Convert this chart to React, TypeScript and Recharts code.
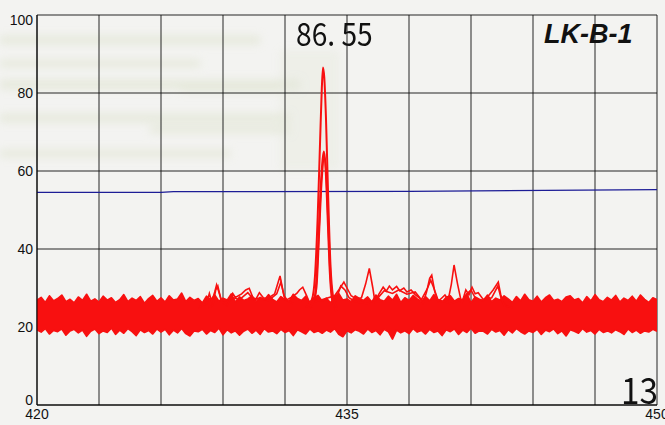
import {
  Area,
  CartesianGrid,
  ComposedChart,
  Line,
  XAxis,
  YAxis,
} from "recharts";

// axis ticks
const xTicks = [420, 423, 426, 429, 432, 435, 438, 441, 444, 447, 450];
const xLabels = [420, 435, 450];
const yTicks = [0, 20, 40, 60, 80, 100];

// noise band, one sample every 0.2 from 420 to 450
const bandTop = [
  26.9, 27.6, 26.3, 28.0, 26.7, 27.3, 28.2, 26.5, 27.1, 26.2,
  27.7, 26.8, 28.4, 26.6, 27.2, 26.4, 27.9, 26.9, 27.5, 26.3,
  27.0, 28.3, 26.5, 27.4, 26.8, 27.8, 26.1, 27.3, 28.1, 26.6,
  27.5, 26.4, 28.0, 26.9, 27.2, 28.7, 26.5, 27.6, 26.8, 27.3,
  26.2, 27.9, 27.0, 28.2, 26.6, 27.4, 26.9, 28.5, 26.4, 27.7,
  26.8, 27.2, 28.0, 26.5, 27.6, 26.9, 28.3, 27.1, 26.4, 27.8,
  27.0, 26.6, 28.4, 27.3, 26.8, 27.9, 26.3, 27.5, 28.1, 26.7,
  27.4, 26.2, 27.8, 28.6, 26.9, 27.2, 26.5, 28.0, 27.3, 26.8,
  27.7, 26.4, 28.2, 27.0, 26.6, 27.9, 26.9, 28.4, 26.3, 27.5,
  26.8, 28.1, 27.2, 26.5, 27.8, 26.7, 28.3, 27.0, 26.4, 27.6,
  28.0, 26.6, 27.3, 26.9, 28.5, 26.2, 27.7, 27.1, 26.8, 28.2,
  26.5, 27.4, 26.9, 28.0, 27.2, 26.3, 27.8, 26.7, 28.4, 27.0,
  26.6, 27.9, 26.4, 27.5, 28.2, 26.8, 27.1, 26.5, 27.7, 28.0,
  26.9, 27.3, 26.2, 27.8, 26.7, 28.3, 27.0, 26.5, 27.6, 26.9,
  28.1, 26.4, 27.4, 26.8, 27.9, 26.6, 28.2, 27.1, 26.3, 27.5,
  27.0,
];
const bandBottom = [
  19.3, 18.7, 19.6, 18.2, 19.1, 18.8, 19.5, 17.9, 19.0, 19.4,
  18.5, 19.2, 17.6, 18.9, 19.5, 18.3, 19.0, 18.6, 19.7, 18.1,
  19.2, 18.4, 19.6, 18.8, 17.8, 19.3, 18.6, 19.1, 18.2, 19.5,
  18.7, 19.4, 18.0, 19.2, 18.5, 19.6, 18.3, 17.7, 19.0, 18.8,
  19.4, 18.2, 19.1, 18.6, 19.7, 18.0, 19.3, 18.5, 19.0, 17.9,
  18.9, 19.5, 18.4, 19.2, 18.1, 19.6, 18.7, 19.0, 18.3, 19.4,
  18.6, 19.1, 17.8, 19.3, 18.8, 18.2, 19.5, 18.6, 19.0, 18.4,
  19.2, 18.7, 19.6, 18.1, 17.5, 19.0, 18.5, 19.3, 18.9, 18.2,
  19.5, 18.6, 19.1, 18.0, 19.4, 18.8, 16.9, 19.2, 18.5, 19.0,
  18.3, 19.6, 18.7, 19.1, 18.2, 19.4, 18.6, 19.0, 17.8, 19.3,
  18.8, 19.5, 18.1, 19.2, 18.6, 19.7, 18.4, 19.0, 18.9, 18.2,
  19.4, 18.7, 19.1, 17.9, 19.3, 18.5, 19.6, 18.8, 18.2, 19.0,
  18.6, 19.4, 18.1, 19.2, 18.8, 19.5, 18.3, 19.0, 17.7, 19.3,
  18.9, 18.4, 19.6, 18.7, 19.1, 18.2, 19.4, 18.6, 19.0, 18.5,
  19.3, 18.8, 18.1, 19.5, 18.6, 19.2, 18.4, 19.0, 18.7, 19.4,
  18.9,
];

// main peak traces [x, y]
const peakA = [
  [433.0, 25], [433.3, 27], [433.45, 33], [433.58, 48], [433.7, 68],
  [433.78, 81], [433.84, 86.55], [433.9, 84], [433.98, 74], [434.08, 55],
  [434.2, 36], [434.32, 28], [434.5, 25],
];
const peakB = [
  [433.2, 25], [433.45, 28], [433.6, 40], [433.72, 55], [433.82, 63],
  [433.88, 65], [433.95, 62], [434.05, 50], [434.15, 36], [434.28, 27],
  [434.45, 25],
];
const peakC = [
  [433.3, 25], [433.52, 30], [433.65, 44], [433.78, 58], [433.9, 63.5],
  [434.0, 59], [434.1, 46], [434.2, 33], [434.35, 26], [434.5, 24],
];

// small traces riding above the noise
const traceD = [
  [427.8, 25], [428.2, 26], [428.34, 28.6], [428.45, 26.5], [428.6, 29],
  [428.69, 30.8], [428.8, 29], [428.95, 26.5], [429.2, 25.5], [429.47, 28.6],
  [429.6, 27.6], [429.9, 28.5], [430.1, 29.5], [430.27, 29.9], [430.45, 27.5],
  [430.6, 27.2], [430.76, 28.8], [430.95, 27.5], [431.2, 27.2], [431.35, 28],
  [431.5, 28.5], [431.76, 33.1], [431.95, 28], [432.1, 27], [432.3, 27.6],
  [432.57, 28.6], [432.7, 29.5], [432.86, 30.2], [433.05, 28], [433.2, 26],
  [434.4, 28], [434.6, 29.5], [434.85, 31.5], [435.0, 30], [435.2, 28],
  [435.45, 27.2], [435.7, 27.5], [435.9, 31], [436.08, 35], [436.25, 30],
  [436.35, 26.5], [436.55, 28.5], [436.75, 30.2], [436.9, 29.2], [437.05, 30.5],
  [437.2, 29.5], [437.4, 30.4], [437.55, 29.3], [437.75, 30], [437.9, 29],
  [438.1, 29.5], [438.3, 28.3], [438.5, 27.5], [438.68, 26], [438.85, 29],
  [439.0, 32.5], [439.1, 33.3], [439.25, 29], [439.4, 26.5], [439.6, 27.5],
  [439.74, 28.2], [439.9, 27], [440.05, 31], [440.18, 35.9], [440.35, 31],
  [440.55, 26], [440.75, 29.5], [440.9, 28.2], [441.05, 30.2], [441.2, 28.5],
  [441.35, 28.8], [441.6, 27], [441.85, 28], [442.07, 29.5], [442.32, 31.5],
  [442.45, 28], [442.6, 25.5], [443.0, 25],
];
const traceE = [
  [428.3, 25], [428.5, 25.5], [428.65, 29.5], [428.75, 30.5], [428.9, 27],
  [429.3, 26.5], [429.5, 27.5], [429.8, 27], [430.2, 28.8], [430.5, 27],
  [430.8, 27.5], [431.2, 26.8], [431.6, 28.5], [431.8, 31.5], [432.0, 27],
  [432.4, 26], [434.4, 26], [434.7, 30.5], [434.9, 29.5], [435.1, 27.5],
  [435.4, 26.5], [436.0, 26], [436.5, 27.5], [436.8, 29.3], [437.2, 28.6],
  [437.5, 29.5], [437.9, 28.4], [438.3, 29], [438.6, 27], [438.9, 30],
  [439.05, 32], [439.2, 30], [439.4, 27], [440.0, 26], [440.6, 27],
  [440.8, 28.5], [441.0, 29.5], [441.2, 27.5], [441.5, 26.8], [442.0, 27.5],
  [442.3, 30.5], [442.5, 26.5], [442.8, 25],
];

// reference level (blue)
const level = [
  [420, 54.5], [426, 54.5], [426.6, 54.7], [438, 54.8], [450, 55.2],
];

const RED = "#f81010";

const toPts = (arr: number[][]) => arr.map(([x, y]) => ({ x, y }));
const bandData = bandTop.map((t, i) => ({
  x: 420 + i * 0.2,
  range: [bandBottom[i], t],
}));

const YTick = ({ x, y, payload }: any) => {
  let dy = 5;
  if (payload.value === 100) dy = 10;
  if (payload.value === 0) dy = 0;
  return (
    <text x={x + 4} y={y + dy} textAnchor="end" fontSize={14} fill="#111"
      fontFamily="Liberation Sans, Arial, sans-serif">
      {payload.value}
    </text>
  );
};

const XTick = ({ x, y, payload }: any) => {
  if (!xLabels.includes(payload.value)) return <g />;
  return (
    <text x={x} y={y + 6} textAnchor="middle" fontSize={14} fill="#111"
      fontFamily="Liberation Sans, Arial, sans-serif">
      {payload.value}
    </text>
  );
};

export default function App() {
  return (
    <div style={{ position: "absolute", left: 0, top: 0, width: 665, height: 425, background: "#f3f3f1", overflow: "hidden" }}>
      <svg width={665} height={425} style={{ position: "absolute", left: 0, top: 0 }}>
        <defs>
          <filter id="blur" x="-20%" y="-200%" width="140%" height="500%">
            <feGaussianBlur stdDeviation="4" />
          </filter>
        </defs>
        <g filter="url(#blur)" fill="#dde2cc" opacity={0.6}>
          <rect x={0} y={36} width={260} height={8} />
          <rect x={0} y={60} width={200} height={7} />
          <rect x={0} y={80} width={300} height={9} />
          <rect x={180} y={85} width={100} height={7} />
          <rect x={0} y={114} width={290} height={8} />
          <rect x={150} y={126} width={140} height={7} />
          <rect x={0} y={150} width={230} height={7} />
          <rect x={280} y={50} width={60} height={120} opacity={0.4} />
        </g>
      </svg>
      <div style={{ position: "absolute", left: 0, top: 0 }}>
        <ComposedChart width={665} height={425} data={bandData}
          margin={{ top: 15, right: 8, left: 0, bottom: 0 }}>
          <CartesianGrid stroke="#111" strokeOpacity={0.9} />
          <XAxis dataKey="x" type="number" domain={[420, 450]} ticks={xTicks}
            allowDataOverflow interval={0} tickLine={false} height={20}
            axisLine={{ stroke: "#000" }} tick={<XTick />} />
          <YAxis type="number" domain={[0, 100]} ticks={yTicks} width={37}
            tickLine={false} axisLine={{ stroke: "#000" }} tick={<YTick />} />
          <Area dataKey="range" type="linear" stroke={RED} strokeWidth={1.6}
            strokeLinejoin="round" fill={RED} fillOpacity={1} isAnimationActive={false} />
          <Line data={toPts(level)} dataKey="y" type="linear" stroke="#1c1c96"
            strokeWidth={1.2} dot={false} isAnimationActive={false} />
          <Line data={toPts(traceE)} dataKey="y" type="linear" stroke={RED}
            strokeWidth={1.6} dot={false} isAnimationActive={false} />
          <Line data={toPts(traceD)} dataKey="y" type="linear" stroke={RED}
            strokeWidth={1.6} dot={false} isAnimationActive={false} />
          <Line data={toPts(peakC)} dataKey="y" type="monotone" stroke={RED}
            strokeWidth={2} dot={false} isAnimationActive={false} />
          <Line data={toPts(peakB)} dataKey="y" type="monotone" stroke={RED}
            strokeWidth={2} dot={false} isAnimationActive={false} />
          <Line data={toPts(peakA)} dataKey="y" type="monotone" stroke={RED}
            strokeWidth={2} dot={false} isAnimationActive={false} />
        </ComposedChart>
      </div>
      <div style={{ position: "absolute", left: 296, top: 12, fontFamily: "'Noto Sans CJK JP', sans-serif",
        fontSize: 32, lineHeight: "40px", color: "#111", transform: "scaleX(0.88)", transformOrigin: "left top", whiteSpace: "pre" }}>
        86. 55
      </div>
      <div style={{ position: "absolute", left: 544, top: 18, fontFamily: "'Liberation Sans', Arial, sans-serif",
        fontSize: 27, lineHeight: "32px", fontWeight: "bold", fontStyle: "italic", color: "#111" }}>
        LK-B-1
      </div>
      <div style={{ position: "absolute", left: 621, top: 366, fontFamily: "'Noto Sans CJK JP', sans-serif",
        fontSize: 37, lineHeight: "44px", color: "#111", transform: "scaleX(0.9)", transformOrigin: "left top" }}>
        13
      </div>
    </div>
  );
}
